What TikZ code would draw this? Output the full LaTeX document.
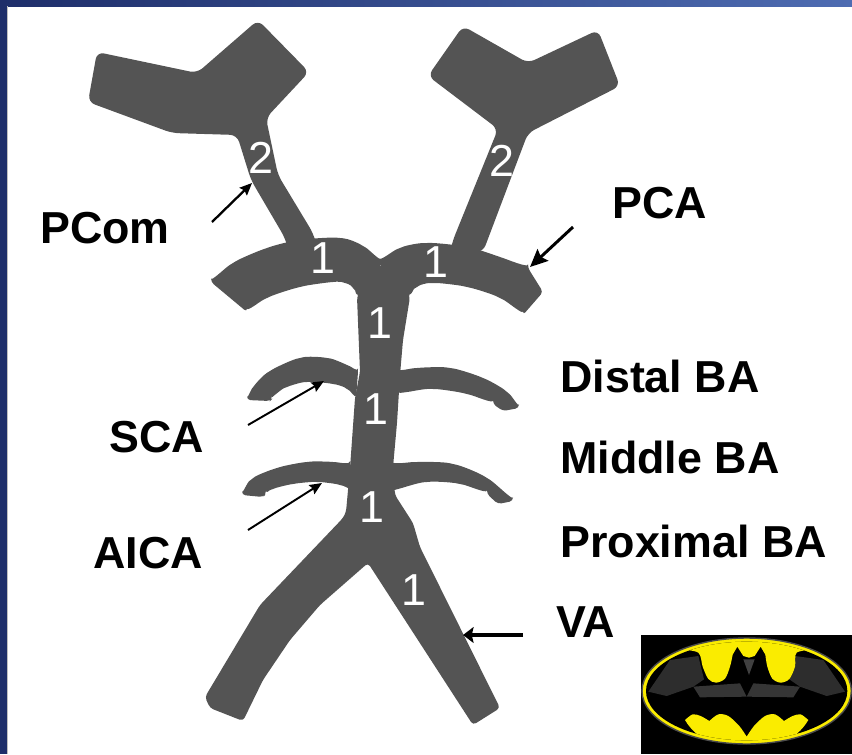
\documentclass[tikz,border=0pt]{standalone}
\usepackage{fontspec}
\setmainfont{Liberation Sans}
\usetikzlibrary{arrows.meta}

\definecolor{vesselgray}{RGB}{84,84,84}
\definecolor{framedark}{RGB}{30,46,106}
\definecolor{framelight}{RGB}{78,108,178}
\definecolor{batyellow}{RGB}{250,236,0}

\tikzset{
  vessel/.style={fill=vesselgray, rounded corners=2pt},
  lbl/.style={font=\fontsize{25.5}{30}\selectfont\bfseries, inner sep=0pt, anchor=base west},
  seg/.style={font=\fontsize{25.5}{30}\selectfont, text=white, inner sep=0pt},
  ptr/.style={line width=1.1pt, -{Stealth[length=7pt,width=6pt,inset=1pt]}},
}

\begin{document}
\begin{tikzpicture}[x=0.02cm, y=-0.02cm]
\useasboundingbox (0,0) rectangle (852,754);

% slide frame
\shade[left color=framedark, right color=framelight] (0,0) rectangle (852,6);
\fill[framedark] (0,0) rectangle (7,754);
\draw[gray!50, line width=0.5pt] (7.6,6) -- (7.6,754);

% P2/P3 blocks with their stems
\fill[vessel, rounded corners=4pt] (97,52) -- (197,73) -- (258,20) -- (309,72) -- (266,118)
  -- (278,175) -- (313,233) -- (320,256) -- (290,256) -- (285,238) -- (251,180) -- (237,135)
  -- (172,133) -- (88,102) -- cycle;
\fill[vessel, rounded corners=4pt] (428,76) -- (463,26) -- (528,63) -- (598,30) -- (620,86)
  -- (528,133) -- (483,252) -- (450,252) -- (453,240) -- (498,129) -- cycle;

% P1 arcs
\fill[vessel] plot[smooth] coordinates {(211,282) (233,263) (267,248) (300,240) (340,238) (363,246) (381,262)}
  -- (372,300) -- plot[smooth] coordinates {(357,297) (353,288) (345,283) (333,282) (300,287) (267,298) (247,312)} -- cycle;
\fill[vessel] plot[smooth] coordinates {(379,262) (400,248) (427,243) (467,247) (500,257) (528,268)}
  -- (543,292) -- plot[smooth] coordinates {(523,315) (500,298) (467,287) (433,283) (417,287) (410,297)}
  -- (395,300) -- cycle;

% basilar trunk and vertebrals
\fill[vessel] (372,266) -- (357,297) -- (360,372) -- (355,398) -- (350,468) -- (346,512) -- (343,518)
  -- (260,605) -- (205,697) -- (210,708) -- (243,721) -- (263,680) -- (290,640) -- (320,605)
  -- (368,563) -- (473,725) -- (500,708) -- (420,547) -- (413,523) -- (395,495) -- (393,467)
  -- (397,423) -- (400,375) -- (403,340) -- (410,297) -- (392,266) -- cycle;

% SCA
\fill[vessel] plot[smooth] coordinates {(247,400) (254,386) (270,371) (300,358) (327,358) (347,365) (358,372)}
  -- plot[smooth] coordinates {(356,399) (347,389) (333,384) (307,382) (287,387) (276,394) (272,399)}
  -- (270,401) -- cycle;
\fill[vessel] plot[smooth] coordinates {(398,372) (417,368) (450,368) (483,378) (507,392) (519,408)}
  -- (503,411) -- plot[smooth] coordinates {(493,404) (467,394) (433,389) (407,392) (398,394)} -- cycle;

% AICA
\fill[vessel] plot[smooth] coordinates {(242,495) (252,479) (277,468) (307,462) (333,462) (350,465)}
  -- plot[smooth] coordinates {(352,491) (340,485) (317,482) (293,484) (273,489) (266,494)}
  -- (263,497) -- cycle;
\fill[vessel] plot[smooth] coordinates {(392,465) (417,462) (453,464) (487,478) (513,501)}
  -- (498,504) -- plot[smooth] coordinates {(487,494) (460,484) (427,482) (398,489) (394,491)} -- cycle;

% segment numbers
\node[seg] (p2l) at (261,158) {2};
\node[seg] (p2r) at (502,161) {2};
\node[seg] (p1l) at (323,258) {1};
\node[seg] (p1r) at (436,262) {1};
\node[seg] (badist) at (380,323) {1};
\node[seg] (bamid) at (376,409) {1};
\node[seg] (baprox) at (372,507) {1};
\node[seg] (vaseg) at (414,590) {1};

% labels
\node[lbl] (pcom) at (40,243) {PCom};
\node[lbl] (pca) at (612,218) {PCA};
\node[lbl] (distal) at (560,392) {Distal BA};
\node[lbl] (middle) at (560,473) {Middle BA};
\node[lbl] (proximal) at (560,557) {Proximal BA};
\node[lbl] (va) at (556,637) {VA};
\node[lbl] (sca) at (109,452) {SCA};
\node[lbl] (aica) at (93,568) {AICA};

% pointers
\coordinate (pcomA) at (212,222); \coordinate (pcomB) at (252,183);
\coordinate (pcaA) at (573,227);  \coordinate (pcaB) at (530,267);
\coordinate (scaA) at (248,425);  \coordinate (scaB) at (324,381);
\coordinate (aicaA) at (248,530); \coordinate (aicaB) at (322,483);
\coordinate (vaA) at (523,635);   \coordinate (vaB) at (463,635);
\draw[ptr, line width=1.3pt] (pcomA) -- (pcomB);
\draw[ptr, line width=1.7pt, -{Stealth[length=10pt,width=9pt,inset=1.5pt]}] (pcaA) -- (pcaB);
\draw[ptr] (scaA) -- (scaB);
\draw[ptr] (aicaA) -- (aicaB);
\draw[ptr, line width=2.6pt, -{Stealth[length=6pt,width=9pt,inset=1pt]}] (vaA) -- (vaB);

% bat badge
\fill[black] (641,635) rectangle (852,754);
\begin{scope}[shift={(630,620)}, x=0.006667cm, y=-0.006667cm]
  \fill[batyellow, draw=gray!60!black, line width=0.8pt] (350,213) ellipse [x radius=314, y radius=159];
  \fill[black] (350,213) ellipse [x radius=302, y radius=148];
  \begin{scope}
    \clip (350,213) ellipse [x radius=302, y radius=148];
    % wing sheen
    \fill[gray!45!black, opacity=0.8] (55,215) -- (120,120) -- (205,108) -- (222,178) -- (190,200) -- (110,228) -- cycle;
    \fill[gray!45!black, opacity=0.8] (645,215) -- (580,120) -- (495,108) -- (478,178) -- (510,200) -- (590,228) -- cycle;
    \fill[gray!60!black, opacity=0.7] (190,200) -- (330,190) -- (350,230) -- (210,232) -- cycle;
    \fill[gray!60!black, opacity=0.7] (510,200) -- (370,190) -- (350,230) -- (490,232) -- cycle;
    \fill[gray!50!black] (340,118) -- (374,118) -- (357,165) -- cycle;
    % yellow field above the wings
    \fill[batyellow] (0,0) -- (150,88) -- plot[smooth] coordinates {(150,88) (205,98) (218,140) (235,177) (258,188) (285,176) (300,140) (308,104)}
      -- (322,80) -- (340,108) -- (357,113) -- (374,108) -- (392,80)
      -- plot[smooth] coordinates {(406,104) (412,140) (427,176) (452,188) (478,177) (495,140) (500,98) (555,88)}
      -- (700,0) -- cycle;
    % yellow field below the wings
    \fill[batyellow] plot[smooth] coordinates {(165,300) (188,283) (212,288) (238,303)}
      -- plot[smooth] coordinates {(238,303) (265,283) (295,288) (328,318) (350,350)}
      -- plot[smooth] coordinates {(350,350) (372,318) (405,288) (435,283) (462,303)}
      -- plot[smooth] coordinates {(462,303) (488,288) (512,283) (535,300)}
      .. controls (500,360) and (430,390) .. (350,390) .. controls (270,390) and (200,360) .. (165,300) -- cycle;
  \end{scope}
\end{scope}
\end{tikzpicture}
\end{document}
